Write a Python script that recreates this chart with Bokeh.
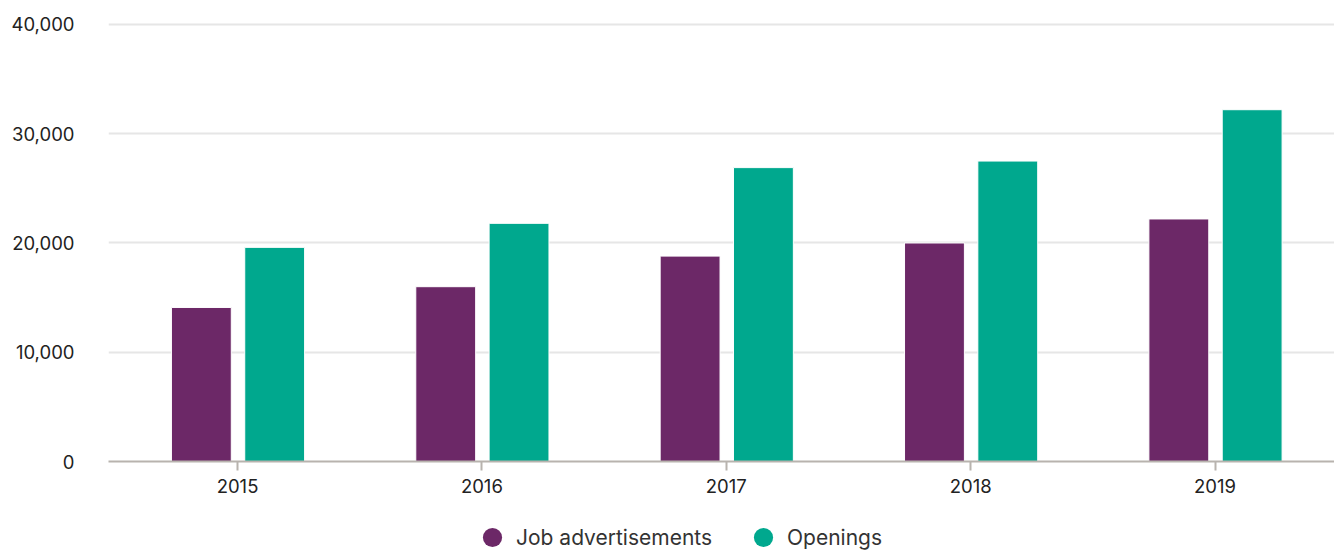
from bokeh.plotting import figure
from bokeh.layouts import column
from bokeh.models import Range1d, FixedTicker, Legend, LegendItem, NumeralTickFormatter, ColumnDataSource
from bokeh.embed import file_html
from bokeh.resources import INLINE

years = ["2015", "2016", "2017", "2018", "2019"]
job_ads = [14100, 16000, 18800, 20000, 22200]
openings = [19600, 21800, 26900, 27500, 32200]
series_names = ["Job advertisements", "Openings"]
colors = ["#6C2867", "#00A88E"]
y_ticks = [0, 10000, 20000, 30000, 40000]

FONT = "Inter"
idx = list(range(len(years)))

p = figure(width=1334, height=499, output_backend="svg", toolbar_location=None,
           x_range=Range1d(-0.528, 4.489), y_range=Range1d(0, 40183),
           min_border_left=108, min_border_right=0, min_border_top=22, min_border_bottom=38)
p.outline_line_color = None
p.background_fill_color = "white"

src = ColumnDataSource(dict(x1=[i - 0.148 for i in idx], x2=[i + 0.152 for i in idx],
                            a=job_ads, b=openings))
p.vbar(x="x1", top="a", width=0.245, source=src, fill_color=colors[0],
       line_color="white", line_width=1)
p.vbar(x="x2", top="b", width=0.245, source=src, fill_color=colors[1],
       line_color="white", line_width=1)

# y axis
p.yaxis.ticker = FixedTicker(ticks=y_ticks)
p.yaxis.formatter = NumeralTickFormatter(format="0,0")
p.yaxis.axis_line_color = None
p.yaxis.major_tick_line_color = None
p.yaxis.minor_tick_line_color = None
p.yaxis.major_label_text_font = FONT
p.yaxis.major_label_text_font_size = "18.5px"
p.yaxis.major_label_text_color = "#222222"
p.yaxis.major_label_standoff = 28

p.ygrid.ticker = FixedTicker(ticks=y_ticks)
p.ygrid.grid_line_color = "#e6e6e6"
p.ygrid.grid_line_width = 2
p.xgrid.grid_line_color = None

# x axis
p.xaxis.ticker = FixedTicker(ticks=idx)
p.xaxis.major_label_overrides = {i: y for i, y in zip(idx, years)}
p.xaxis.axis_line_color = "#b8b3ae"
p.xaxis.axis_line_width = 2
p.xaxis.major_tick_line_color = "#b8b3ae"
p.xaxis.major_tick_line_width = 2
p.xaxis.major_tick_in = 0
p.xaxis.major_tick_out = 9
p.xaxis.minor_tick_line_color = None
p.xaxis.major_label_text_font = FONT
p.xaxis.major_label_text_font_size = "18.5px"
p.xaxis.major_label_text_color = "#222222"
p.xaxis.major_label_standoff = 8

# legend in its own strip below the chart
lf = figure(width=1334, height=52, output_backend="svg", toolbar_location=None,
            x_axis_type=None, y_axis_type=None,
            x_range=Range1d(0, 1), y_range=Range1d(0, 1),
            min_border_left=0, min_border_right=0, min_border_top=0, min_border_bottom=0)
lf.grid.visible = False
lf.outline_line_color = None
r1 = lf.scatter(x=[-10], y=[-10], size=19, marker="circle", fill_color=colors[0], line_color=None)
r2 = lf.scatter(x=[-10], y=[-10], size=19, marker="circle", fill_color=colors[1], line_color=None)
legend = Legend(items=[LegendItem(label=series_names[0], renderers=[r1]),
                       LegendItem(label=series_names[1], renderers=[r2])],
                orientation="horizontal", location=(360, -10),
                label_text_font=FONT, label_text_font_size="21px", label_text_color="#333333",
                glyph_width=48, glyph_height=48, spacing=27, border_line_color=None,
                background_fill_alpha=0, padding=0, margin=0, label_standoff=0,
                label_height=20)
lf.add_layout(legend, "center")

layout = column(p, lf, spacing=0)
open("out.html", "w").write(file_html(layout, INLINE))
